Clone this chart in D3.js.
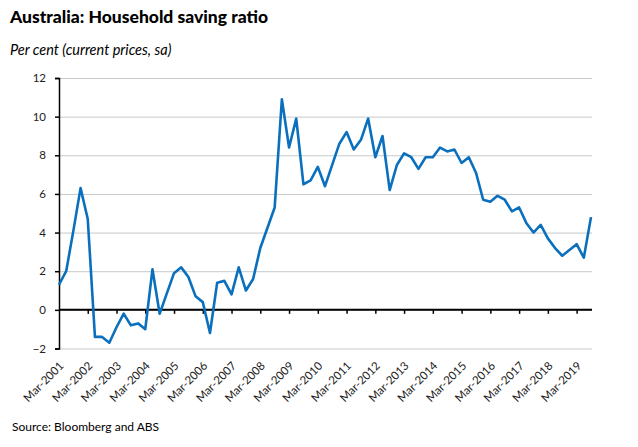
<!DOCTYPE html>
<html>
<head>
<meta charset="utf-8">
<script src="https://cdn.jsdelivr.net/npm/d3@7"></script>
<style>
  body { margin: 0; background: #fff; }
  text { font-family: Lato, "Open Sans", sans-serif; }
</style>
</head>
<body>
<script>
// quarterly household saving ratio, Mar-2001 .. Sep-2019
const years = d3.range(2001, 2020);
const months = ['Mar', 'Jun', 'Sep', 'Dec'];
const categories = [];
years.forEach(function(y){
  months.forEach(function(m){ categories.push(m + '-' + y); });
});
categories.splice(75); // last point is Sep-2019

const saving = [
  1.3, 2.0, 4.1, 6.3, 4.7, -1.4, -1.4, -1.7, -0.9, -0.2,
  -0.8, -0.7, -1.0, 2.1, -0.2, 0.85, 1.9, 2.2, 1.7, 0.7,
  0.4, -1.2, 1.4, 1.5, 0.8, 2.2, 1.0, 1.6, 3.2, 4.25,
  5.3, 10.9, 8.4, 9.9, 6.5, 6.7, 7.4, 6.4, 7.5, 8.6,
  9.2, 8.3, 8.8, 9.9, 7.9, 9.0, 6.2, 7.5, 8.1, 7.9,
  7.3, 7.9, 7.9, 8.4, 8.2, 8.3, 7.6, 7.9, 7.1, 5.7,
  5.6, 5.9, 5.7, 5.1, 5.3, 4.5, 4.0, 4.4, 3.7, 3.2,
  2.8, 3.1, 3.4, 2.7, 4.8
];

const yTicks = [-2, 0, 2, 4, 6, 8, 10, 12];
const xTickLabels = categories.filter(function(c){ return c.startsWith('Mar'); });

const width = 638, height = 447;
const margin = {top: 78, right: 46, bottom: 98, left: 59};

const svg = d3.select('body').append('svg')
  .attr('width', width)
  .attr('height', height);

const xScale = d3.scalePoint()
  .domain(categories)
  .range([margin.left, width - margin.right - 1]);

const yScale = d3.scaleLinear()
  .domain([-2, 12])
  .range([height - margin.bottom - 0.5, margin.top]);

// gridlines
svg.append('g')
  .attr('transform', `translate(${margin.left},0)`)
  .call(d3.axisLeft(yScale).tickValues(yTicks).tickSize(-(width - margin.right - margin.left)).tickFormat(''))
  .call(g => g.select('.domain').remove())
  .selectAll('line')
  .attr('stroke', '#c6c9cc')
  .attr('stroke-width', 1);

// Y axis
const yAxis = svg.append('g')
  .attr('transform', `translate(${margin.left},0)`)
  .call(d3.axisLeft(yScale).tickValues(yTicks).tickSize(4).tickPadding(9));
yAxis.select('.domain').attr('stroke', '#000').attr('stroke-width', 1.5);
yAxis.selectAll('line').attr('stroke', '#000').attr('stroke-width', 1.5);
yAxis.selectAll('text')
  .attr('font-size', 11.5)
  .attr('fill', '#222')
  .style('font-family', 'Lato, sans-serif');

// X axis on zero line (ticks only)
const xAxis = svg.append('g')
  .attr('transform', `translate(0,${yScale(0)})`)
  .call(d3.axisBottom(xScale).tickValues(xTickLabels.slice(1)).tickSize(4).tickFormat(''));
xAxis.select('.domain')
  .attr('d', `M${margin.left},0H${width - margin.right}`)
  .attr('stroke', '#000').attr('stroke-width', 2);
xAxis.selectAll('line').attr('stroke', '#000').attr('stroke-width', 1.5);

// X labels at bottom of plot
const xLab = svg.append('g')
  .attr('transform', `translate(0,${yScale(-2)})`)
  .call(d3.axisBottom(xScale).tickValues(xTickLabels).tickSize(0));
xLab.select('.domain').remove();
xLab.selectAll('text')
  .attr('font-size', 11.5)
  .attr('fill', '#222')
  .attr('text-anchor', 'end')
  .attr('y', 0)
  .attr('dx', 0)
  .attr('dy', 0)
  .attr('transform', 'translate(5,18) rotate(-45)');

// the line
const line = d3.line()
  .x(function(d, i){ return xScale(categories[i]); })
  .y(function(d){ return yScale(d); });

svg.append('path')
  .datum(saving)
  .attr('fill', 'none')
  .attr('stroke', '#0a70be')
  .attr('stroke-width', 2.6)
  .attr('stroke-linejoin', 'round')
  .attr('d', line);

// titles
svg.append('text')
  .attr('x', 10)
  .attr('y', 23)
  .attr('font-size', 17.5)
  .attr('font-weight', 900)
  .attr('fill', '#000')
  .text('Australia: Household saving ratio');

svg.append('text')
  .attr('x', 10)
  .attr('y', 55)
  .attr('font-size', 14.5)
  .attr('font-style', 'italic')
  .attr('fill', '#000')
  .text('Per cent (current prices, sa)');

svg.append('text')
  .attr('x', 12)
  .attr('y', 431)
  .attr('font-size', 12)
  .attr('fill', '#000')
  .text('Source: Bloomberg and ABS');
</script>
</body>
</html>
